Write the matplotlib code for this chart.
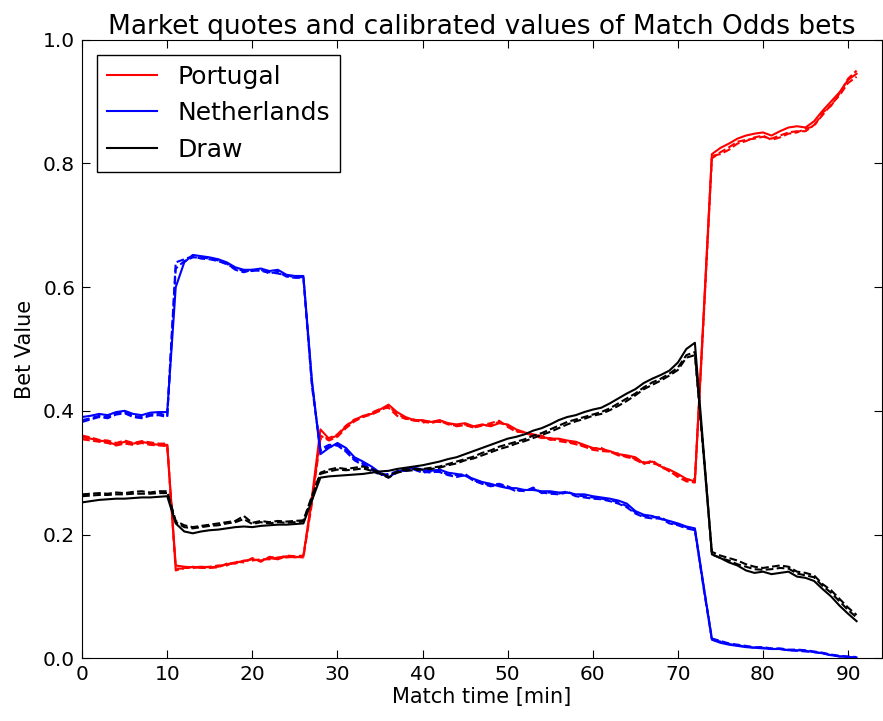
import numpy as np
import matplotlib
matplotlib.use('Agg')
import matplotlib.pyplot as plt

# match minute grid
minutes = list(range(0, 92))

# calibrated values (solid)
portugal = [0.357, 0.355, 0.352, 0.350, 0.345, 0.350, 0.347, 0.350, 0.347, 0.345, 0.345,
            0.150, 0.148, 0.147, 0.148, 0.147, 0.148, 0.152, 0.155, 0.157, 0.160, 0.158,
            0.162, 0.160, 0.165, 0.163, 0.165,
            0.260, 0.370, 0.355, 0.360, 0.375, 0.385, 0.392, 0.395, 0.402, 0.410, 0.398,
            0.390, 0.385, 0.385, 0.382, 0.385, 0.380, 0.378, 0.380, 0.375, 0.378, 0.375,
            0.380, 0.378, 0.370, 0.365, 0.362, 0.358, 0.355, 0.355, 0.352, 0.350, 0.345,
            0.340, 0.338, 0.335, 0.330, 0.328, 0.325, 0.315, 0.318, 0.310, 0.305, 0.298,
            0.290, 0.286,
            0.550, 0.815, 0.825, 0.832, 0.840, 0.845, 0.848, 0.850, 0.845, 0.852, 0.858,
            0.860, 0.858, 0.868, 0.885, 0.900, 0.915, 0.935, 0.945]
netherlands = [0.390, 0.392, 0.395, 0.393, 0.398, 0.400, 0.395, 0.393, 0.397, 0.398, 0.398,
               0.600, 0.640, 0.652, 0.650, 0.648, 0.645, 0.640, 0.632, 0.628, 0.628, 0.630,
               0.626, 0.628, 0.620, 0.618, 0.618,
               0.450, 0.330, 0.340, 0.348, 0.340, 0.325, 0.318, 0.310, 0.300, 0.292, 0.302,
               0.305, 0.308, 0.305, 0.303, 0.305, 0.300, 0.298, 0.295, 0.290, 0.285, 0.282,
               0.278, 0.275, 0.275, 0.272, 0.272, 0.270, 0.270, 0.268, 0.268, 0.265, 0.265,
               0.262, 0.260, 0.258, 0.255, 0.250, 0.238, 0.232, 0.230, 0.225, 0.222, 0.218,
               0.213, 0.210,
               0.120, 0.030, 0.025, 0.022, 0.020, 0.018, 0.017, 0.016, 0.015, 0.015, 0.013,
               0.013, 0.012, 0.010, 0.008, 0.005, 0.003, 0.002, 0.001]
draw = [0.252, 0.254, 0.256, 0.257, 0.258, 0.258, 0.259, 0.260, 0.260, 0.261, 0.262,
        0.218, 0.205, 0.202, 0.205, 0.207, 0.208, 0.210, 0.212, 0.213, 0.212, 0.214,
        0.215, 0.216, 0.216, 0.217, 0.218,
        0.255, 0.292, 0.294, 0.295, 0.296, 0.297, 0.298, 0.300, 0.302, 0.303, 0.306,
        0.308, 0.310, 0.312, 0.315, 0.318, 0.322, 0.325, 0.330, 0.335, 0.340, 0.345,
        0.350, 0.355, 0.358, 0.362, 0.368, 0.372, 0.378, 0.385, 0.390, 0.393, 0.398,
        0.402, 0.405, 0.412, 0.420, 0.428, 0.435, 0.445, 0.452, 0.458, 0.465, 0.478,
        0.500, 0.510,
        0.340, 0.168, 0.162, 0.155, 0.150, 0.142, 0.138, 0.140, 0.136, 0.138, 0.140,
        0.132, 0.130, 0.125, 0.112, 0.100, 0.085, 0.072, 0.060]

# market quotes (dashed), two per outcome
portugal_q1 = [0.360, 0.357, 0.353, 0.352, 0.348, 0.352, 0.348, 0.351, 0.349, 0.347, 0.347,
               0.142, 0.146, 0.146, 0.147, 0.148, 0.150, 0.150, 0.156, 0.155, 0.162, 0.156,
               0.164, 0.162, 0.166, 0.165, 0.166,
               0.255, 0.360, 0.352, 0.358, 0.372, 0.383, 0.390, 0.394, 0.400, 0.408, 0.395,
               0.388, 0.384, 0.383, 0.380, 0.384, 0.378, 0.376, 0.378, 0.373, 0.376, 0.377,
               0.382, 0.376, 0.368, 0.364, 0.360, 0.360, 0.353, 0.354, 0.350, 0.348, 0.343,
               0.339, 0.340, 0.333, 0.331, 0.325, 0.323, 0.317, 0.315, 0.312, 0.302, 0.296,
               0.288, 0.290,
               0.540, 0.808, 0.818, 0.826, 0.835, 0.838, 0.840, 0.843, 0.840, 0.845, 0.850,
               0.852, 0.852, 0.862, 0.878, 0.895, 0.910, 0.930, 0.940]
portugal_q2 = [0.354, 0.352, 0.350, 0.348, 0.344, 0.347, 0.345, 0.348, 0.345, 0.344, 0.343,
               0.145, 0.145, 0.148, 0.146, 0.146, 0.147, 0.153, 0.153, 0.158, 0.158, 0.160,
               0.160, 0.163, 0.163, 0.164, 0.163,
               0.250, 0.355, 0.356, 0.362, 0.376, 0.386, 0.390, 0.397, 0.403, 0.405, 0.392,
               0.387, 0.386, 0.381, 0.383, 0.382, 0.380, 0.375, 0.377, 0.373, 0.377, 0.380,
               0.384, 0.374, 0.366, 0.366, 0.360, 0.356, 0.356, 0.351, 0.349, 0.346, 0.342,
               0.337, 0.335, 0.334, 0.328, 0.326, 0.321, 0.314, 0.320, 0.309, 0.303, 0.293,
               0.286, 0.284,
               0.545, 0.812, 0.815, 0.822, 0.832, 0.836, 0.842, 0.845, 0.838, 0.842, 0.848,
               0.850, 0.856, 0.860, 0.882, 0.893, 0.913, 0.937, 0.950]
netherlands_q1 = [0.385, 0.388, 0.392, 0.390, 0.396, 0.398, 0.392, 0.390, 0.394, 0.396, 0.392,
                  0.640, 0.645, 0.650, 0.646, 0.645, 0.642, 0.637, 0.630, 0.626, 0.626, 0.628,
                  0.622, 0.625, 0.617, 0.615, 0.615,
                  0.440, 0.338, 0.345, 0.345, 0.336, 0.322, 0.315, 0.306, 0.298, 0.295, 0.300,
                  0.306, 0.306, 0.302, 0.300, 0.303, 0.297, 0.296, 0.298, 0.288, 0.283, 0.280,
                  0.282, 0.278, 0.272, 0.270, 0.276, 0.267, 0.268, 0.266, 0.270, 0.263, 0.262,
                  0.260, 0.258, 0.256, 0.252, 0.246, 0.236, 0.230, 0.228, 0.228, 0.220, 0.216,
                  0.212, 0.208,
                  0.118, 0.032, 0.028, 0.024, 0.022, 0.020, 0.018, 0.018, 0.016, 0.016, 0.014,
                  0.014, 0.013, 0.011, 0.009, 0.006, 0.004, 0.003, 0.002]
netherlands_q2 = [0.382, 0.386, 0.390, 0.388, 0.394, 0.396, 0.390, 0.388, 0.392, 0.393, 0.390,
                  0.630, 0.642, 0.648, 0.648, 0.646, 0.643, 0.638, 0.628, 0.624, 0.628, 0.626,
                  0.624, 0.622, 0.619, 0.616, 0.616,
                  0.445, 0.335, 0.342, 0.344, 0.334, 0.320, 0.312, 0.305, 0.296, 0.298, 0.302,
                  0.303, 0.305, 0.300, 0.302, 0.301, 0.296, 0.293, 0.296, 0.287, 0.282, 0.278,
                  0.280, 0.276, 0.270, 0.272, 0.274, 0.268, 0.266, 0.265, 0.268, 0.262, 0.260,
                  0.258, 0.257, 0.254, 0.250, 0.244, 0.234, 0.228, 0.226, 0.226, 0.218, 0.215,
                  0.210, 0.207,
                  0.115, 0.030, 0.027, 0.023, 0.021, 0.019, 0.017, 0.017, 0.015, 0.015, 0.013,
                  0.012, 0.011, 0.010, 0.008, 0.005, 0.003, 0.002, 0.001]
draw_q1 = [0.265, 0.266, 0.267, 0.266, 0.268, 0.267, 0.269, 0.270, 0.268, 0.270, 0.270,
           0.222, 0.215, 0.212, 0.214, 0.216, 0.218, 0.220, 0.222, 0.230, 0.219, 0.222,
           0.220, 0.222, 0.221, 0.222, 0.223,
           0.262, 0.300, 0.305, 0.308, 0.306, 0.308, 0.310, 0.306, 0.300, 0.294, 0.302,
           0.305, 0.306, 0.306, 0.308, 0.310, 0.314, 0.318, 0.322, 0.326, 0.332, 0.336,
           0.342, 0.346, 0.350, 0.354, 0.360, 0.364, 0.370, 0.376, 0.382, 0.386, 0.390,
           0.394, 0.398, 0.404, 0.412, 0.420, 0.428, 0.438, 0.446, 0.452, 0.460, 0.470,
           0.490, 0.495,
           0.335, 0.172, 0.166, 0.162, 0.158, 0.152, 0.148, 0.146, 0.148, 0.150, 0.148,
           0.140, 0.138, 0.134, 0.120, 0.110, 0.096, 0.082, 0.070]
draw_q2 = [0.262, 0.263, 0.264, 0.264, 0.265, 0.265, 0.266, 0.266, 0.266, 0.267, 0.267,
           0.220, 0.212, 0.210, 0.212, 0.214, 0.215, 0.218, 0.220, 0.225, 0.217, 0.220,
           0.218, 0.220, 0.219, 0.220, 0.221,
           0.260, 0.298, 0.302, 0.305, 0.304, 0.305, 0.307, 0.303, 0.298, 0.292, 0.300,
           0.303, 0.304, 0.305, 0.306, 0.308, 0.312, 0.315, 0.320, 0.323, 0.328, 0.333,
           0.338, 0.342, 0.347, 0.351, 0.356, 0.361, 0.366, 0.372, 0.378, 0.383, 0.387,
           0.392, 0.395, 0.401, 0.408, 0.416, 0.425, 0.435, 0.442, 0.449, 0.457, 0.466,
           0.486, 0.490,
           0.332, 0.168, 0.162, 0.158, 0.152, 0.148, 0.144, 0.143, 0.144, 0.146, 0.145,
           0.137, 0.134, 0.131, 0.117, 0.106, 0.092, 0.078, 0.066]

series = [('Portugal', 'red', portugal, portugal_q1, portugal_q2),
          ('Netherlands', 'blue', netherlands, netherlands_q1, netherlands_q2),
          ('Draw', 'black', draw, draw_q1, draw_q2)]

plt.rcParams['xtick.direction'] = 'in'
plt.rcParams['ytick.direction'] = 'in'
plt.rcParams['xtick.top'] = True
plt.rcParams['ytick.right'] = True
plt.rcParams['xtick.major.size'] = 6
plt.rcParams['ytick.major.size'] = 6

fig = plt.figure(figsize=(8.83, 7.21), dpi=100)
ax = fig.add_axes([0.093, 0.087, 0.906, 0.858])

t = np.array(minutes)
for name, col, calib, q1, q2 in series:
    ax.plot(t, calib, '-', color=col, lw=1.5, label=name)
    ax.plot(t, q1, '--', color=col, lw=1.5)
    ax.plot(t, q2, '--', color=col, lw=1.5)

ax.set_xlim(0, 94)
ax.set_ylim(0, 1)
ax.set_xticks([0, 10, 20, 30, 40, 50, 60, 70, 80, 90])
ax.set_yticks([0.0, 0.2, 0.4, 0.6, 0.8, 1.0])
ax.tick_params(labelsize=14.5, pad=5)
ax.set_xlabel('Match time [min]', fontsize=15, labelpad=2)
ax.set_ylabel('Bet Value', fontsize=15, labelpad=6)
ax.set_title('Market quotes and calibrated values of Match Odds bets', fontsize=19, pad=4)
ax.legend(loc='upper left', fontsize=18, fancybox=False, framealpha=1,
          edgecolor='black', handlelength=2, borderaxespad=0.6)

fig.savefig('out.png', dpi=100)
